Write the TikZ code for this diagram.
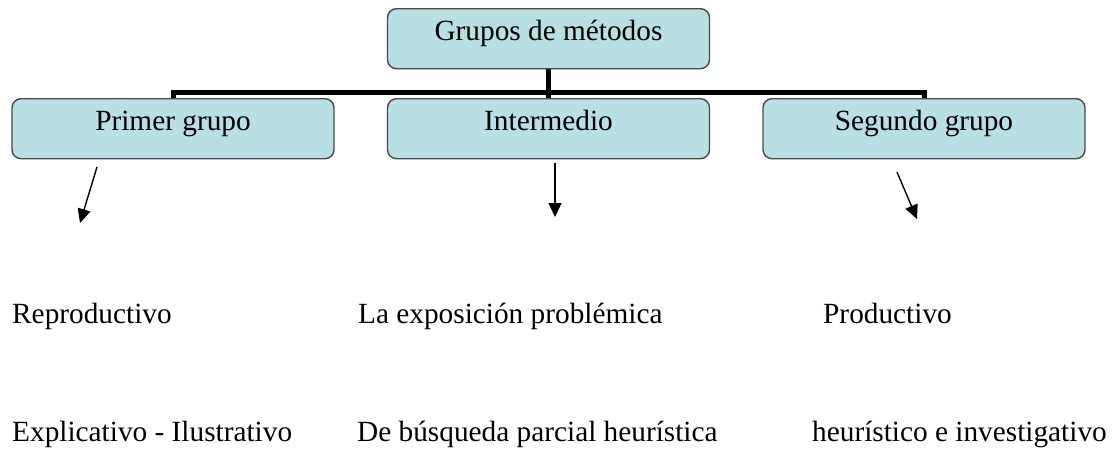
\documentclass[tikz,border=0pt]{standalone}
\usepackage{fontspec}
\setmainfont{Liberation Serif}
\usetikzlibrary{arrows.meta}
\definecolor{boxfill}{HTML}{B8DFE3}
\definecolor{boxline}{HTML}{4A4A4A}
\begin{document}
\begin{tikzpicture}[x=1pt,y=-1pt,
  every node/.style={font=\fontsize{29.3}{34}\selectfont},
  groupbox/.style={draw=boxline,fill=boxfill,line width=1.4pt,rounded corners=9pt,
    minimum width=322pt,inner xsep=0pt,inner ysep=0pt,text height=32pt,text depth=28pt,anchor=north},
  label/.style={anchor=base west,inner sep=0pt},
  bar/.style={line width=5pt,black},
  pointer/.style={line width=1.4pt,-{Triangle[length=14pt,width=13pt]}}]
\useasboundingbox (0,0) rectangle (1114,450);
% connectors first, boxes drawn over them
\path (548.5,8) node[groupbox,draw=none,fill=none] (top) {\phantom{Grupos de métodos}};
\path (173,98) node[groupbox,draw=none,fill=none] (g1) {\phantom{Primer grupo}};
\path (548.5,98) node[groupbox,draw=none,fill=none] (g2) {\phantom{Intermedio}};
\path (924,98) node[groupbox,draw=none,fill=none] (g3) {\phantom{Segundo grupo}};
\draw[bar] (top.south) -- (g2.north);
\draw[bar] (g1.north) -- ++(0,-5.5) -| (g3.north);
\node[groupbox] (topbox) at (top) [anchor=center] {Grupos de métodos};
\node[groupbox] (g1box) at (g1) [anchor=center] {Primer grupo};
\node[groupbox] (g2box) at (g2) [anchor=center] {Intermedio};
\node[groupbox] (g3box) at (g3) [anchor=center] {Segundo grupo};
% text labels
\node[label] (r1) at (12,323) {Reproductivo};
\node[label] (m1) at (358,323) {La exposición problémica};
\node[label] (p1) at (823,323) {Productivo};
\node[label] (r2) at (12,441) {Explicativo - Ilustrativo};
\node[label] (m2) at (357,441) {De búsqueda parcial heurística};
\node[label] (p2) at (812,441) {heurístico e investigativo};
% arrows
\coordinate (a1s) at (97,167);
\coordinate (a1e) at (80,223);
\coordinate (a2s) at (555,163);
\coordinate (a2e) at (555,217);
\coordinate (a3s) at (897,172);
\coordinate (a3e) at (917,219);
\draw[pointer] (a1s) -- (a1e);
\draw[pointer] (a2s) -- (a2e);
\draw[pointer] (a3s) -- (a3e);
\end{tikzpicture}
\end{document}
